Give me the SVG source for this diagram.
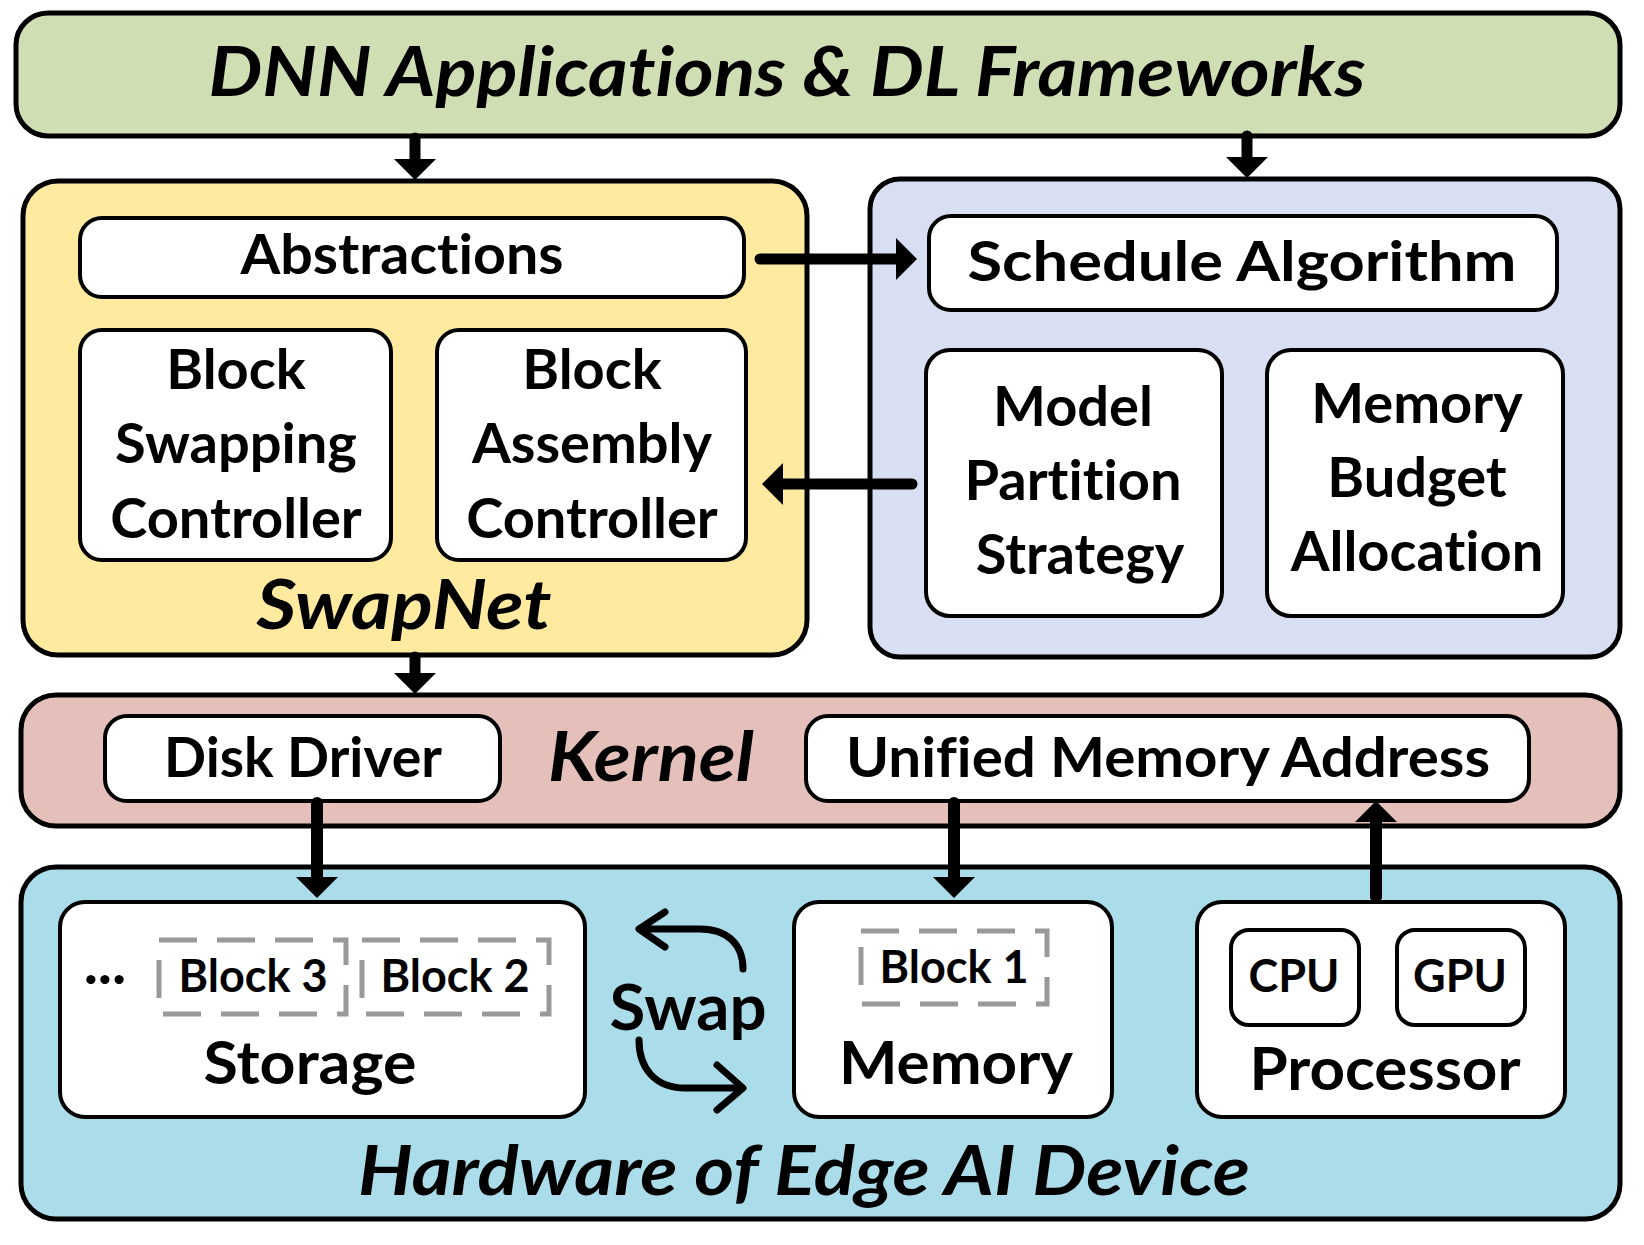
<svg xmlns="http://www.w3.org/2000/svg" width="1644" height="1245" viewBox="0 0 1644 1245">
<style>
text{font-family:Lato,"Open Sans","Liberation Sans",sans-serif;font-weight:700;fill:#000;text-anchor:middle;font-variant-ligatures:none;font-feature-settings:"liga" 0,"clig" 0}
.it{font-style:italic;font-size:69px}
.b{font-size:56px}
.s{font-size:45px}
.m{font-size:60px}
.outer{stroke:#000;stroke-width:5}
.inner{fill:#fff;stroke:#000;stroke-width:4}
.dash{fill:none;stroke:#999;stroke-width:5;stroke-dasharray:38 20}
.shaft{fill:none;stroke:#000;stroke-linecap:round}
.swap{fill:none;stroke:#000;stroke-width:7;stroke-linecap:round;stroke-linejoin:round}
</style>
<defs>
<marker id="ah" markerUnits="userSpaceOnUse" markerWidth="22" markerHeight="42" viewBox="0 0 20 40" refX="0" refY="20" orient="auto">
<path d="M0,0 L20,20 L0,40 Z" fill="#000"/>
</marker>
</defs>
<rect width="1644" height="1245" fill="#fff"/>

<g id="apps">
<rect class="outer" x="16" y="13" width="1604" height="123" rx="32" fill="#d0dfb3"/>
<text class="it" x="787" y="96" textLength="1157" lengthAdjust="spacingAndGlyphs">DNN Applications &amp; DL Frameworks</text>
</g>

<g id="swapnet">
<rect class="outer" x="23" y="181" width="784" height="474" rx="35" fill="#ffeaa0"/>
<text class="it" x="404" y="629" textLength="295" lengthAdjust="spacingAndGlyphs">SwapNet</text>
</g>
<g id="abstractions">
<rect class="inner" x="80" y="218" width="664" height="79" rx="22"/>
<text class="b" x="402" y="274" textLength="323" lengthAdjust="spacingAndGlyphs">Abstractions</text>
</g>
<g id="block-swapping">
<rect class="inner" x="80" y="330" width="311" height="230" rx="22"/>
<text class="b" x="236" y="389">Block</text>
<text class="b" x="236" y="463">Swapping</text>
<text class="b" x="236" y="538">Controller</text>
</g>
<g id="block-assembly">
<rect class="inner" x="437" y="330" width="309" height="230" rx="22"/>
<text class="b" x="592" y="389">Block</text>
<text class="b" x="592" y="463">Assembly</text>
<text class="b" x="592" y="538">Controller</text>
</g>

<g id="scheduler">
<rect class="outer" x="870" y="179" width="750" height="478" rx="30" fill="#d9dff2"/>
</g>
<g id="schedule-algorithm">
<rect class="inner" x="929" y="216" width="628" height="94" rx="22"/>
<text class="b" x="1242" y="281" textLength="549" lengthAdjust="spacingAndGlyphs">Schedule Algorithm</text>
</g>
<g id="model-partition">
<rect class="inner" x="926" y="350" width="296" height="266" rx="24"/>
<text class="b" x="1073" y="426">Model</text>
<text class="b" x="1073" y="500">Partition</text>
<text class="b" x="1080" y="574">Strategy</text>
</g>
<g id="memory-budget">
<rect class="inner" x="1267" y="350" width="296" height="266" rx="24"/>
<text class="b" x="1417" y="423">Memory</text>
<text class="b" x="1417" y="497">Budget</text>
<text class="b" x="1417" y="571">Allocation</text>
</g>

<g id="kernel">
<rect class="outer" x="21" y="695" width="1599" height="131" rx="35" fill="#e5c0bb"/>
<text class="it" x="651" y="781" textLength="206" lengthAdjust="spacingAndGlyphs">Kernel</text>
</g>
<g id="disk-driver">
<rect class="inner" x="105" y="716" width="395" height="85" rx="22"/>
<text class="b" x="303" y="777" textLength="278" lengthAdjust="spacingAndGlyphs">Disk Driver</text>
</g>
<g id="unified-memory">
<rect class="inner" x="806" y="716" width="723" height="85" rx="22"/>
<text class="b" x="1168" y="777" textLength="644" lengthAdjust="spacingAndGlyphs">Unified Memory Address</text>
</g>

<g id="hardware">
<rect class="outer" x="21" y="867" width="1599" height="352" rx="35" fill="#aadcea"/>
<text class="it" x="804" y="1195" textLength="892" lengthAdjust="spacingAndGlyphs">Hardware of Edge AI Device</text>
<text x="688" y="1030" font-size="64" textLength="157" lengthAdjust="spacingAndGlyphs">Swap</text>
</g>
<g id="storage">
<rect class="inner" x="60" y="902" width="525" height="215" rx="25"/>
<text x="105" y="984" font-size="60">...</text>
<rect class="dash" x="159" y="940" width="187" height="74"/>
<text class="s" x="253" y="992">Block 3</text>
<rect class="dash" x="362" y="940" width="187" height="74"/>
<text class="s" x="455" y="992">Block 2</text>
<text class="m" x="310" y="1084" textLength="213" lengthAdjust="spacingAndGlyphs">Storage</text>
</g>
<g id="memory">
<rect class="inner" x="794" y="902" width="318" height="215" rx="25"/>
<rect class="dash" x="861" y="931" width="186" height="73"/>
<text class="s" x="954" y="983">Block 1</text>
<text class="m" x="956" y="1084" textLength="234" lengthAdjust="spacingAndGlyphs">Memory</text>
</g>
<g id="processor">
<rect class="inner" x="1197" y="902" width="368" height="215" rx="25"/>
<text class="m" x="1385" y="1090" textLength="271" lengthAdjust="spacingAndGlyphs">Processor</text>
</g>
<g id="cpu">
<rect class="inner" x="1231" y="930" width="128" height="95" rx="18"/>
<text class="s" x="1294" y="992">CPU</text>
</g>
<g id="gpu">
<rect class="inner" x="1397" y="930" width="128" height="95" rx="18"/>
<text class="s" x="1460" y="992">GPU</text>
</g>

<g id="connectors">
<path class="shaft" stroke-width="11" d="M415 138 L415 159" marker-end="url(#ah)"/>
<path class="shaft" stroke-width="11" d="M1247 136 L1247 157" marker-end="url(#ah)"/>
<path class="shaft" stroke-width="11" d="M760 259 L896 259" marker-end="url(#ah)"/>
<path class="shaft" stroke-width="11" d="M912 484 L783 484" marker-end="url(#ah)"/>
<path class="shaft" stroke-width="11" d="M415 657 L415 673" marker-end="url(#ah)"/>
<path class="shaft" stroke-width="12" d="M317 803 L317 877" marker-end="url(#ah)"/>
<path class="shaft" stroke-width="12" d="M954 803 L954 877" marker-end="url(#ah)"/>
<path class="shaft" stroke-width="12" d="M1376 897 L1376 822" marker-end="url(#ah)"/>
<path class="swap" d="M743 969 C743 945 728 929 700 929 L640 929"/>
<path class="swap" d="M665 912 L639 929 L665 947"/>
<path class="swap" d="M639 1040 C639 1068 655 1088 685 1088 L742 1088"/>
<path class="swap" d="M717 1065 L743 1088 L717 1110"/>
</g>
</svg>
